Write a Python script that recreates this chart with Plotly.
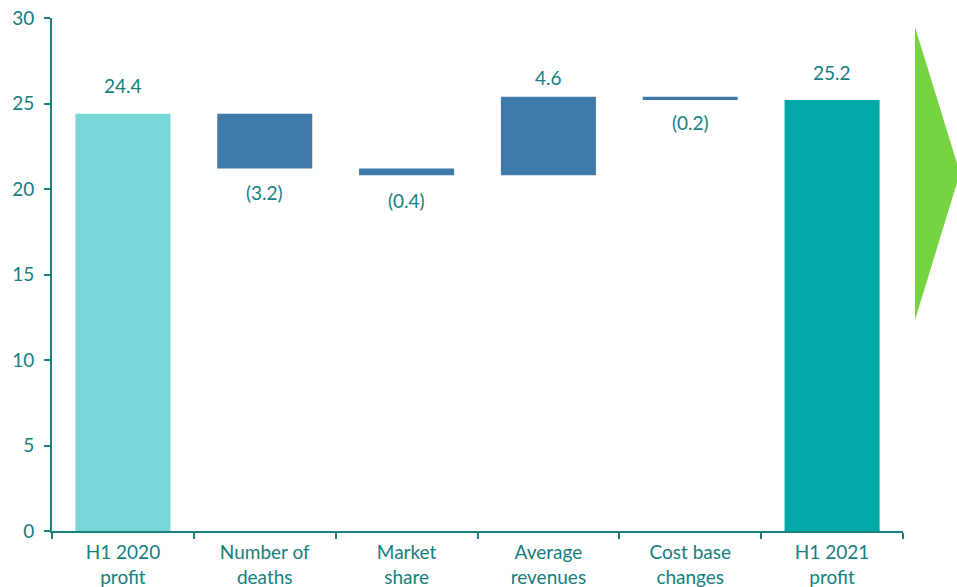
import plotly.graph_objects as go

categories = ["H1 2020<br>profit", "Number of<br>deaths", "Market<br>share",
              "Average<br>revenues", "Cost base<br>changes", "H1 2021<br>profit"]
changes = [24.4, -3.2, -0.4, 4.6, -0.2, 25.2]
kinds = ["total", "delta", "delta", "delta", "delta", "total"]
labels = ["24.4", "(3.2)", "(0.4)", "4.6", "(0.2)", "25.2"]
y_ticks = [0, 5, 10, 15, 20, 25, 30]

TEAL_TEXT = "#157E7E"
colors = {"first": "#79D6D6", "delta": "#3F79A9", "last": "#00A8A8"}

bases, heights, bar_colors = [], [], []
running = 0.0
for i, (v, k) in enumerate(zip(changes, kinds)):
    if k == "total":
        bases.append(0)
        heights.append(v)
        running = v
        bar_colors.append(colors["first"] if i == 0 else colors["last"])
    else:
        bases.append(running)
        heights.append(v)
        running += v
        bar_colors.append(colors["delta"])

fig = go.Figure(go.Bar(x=categories, y=heights, base=bases,
                       marker=dict(color=bar_colors, line=dict(width=0)),
                       hoverinfo="skip"))

yshifts = [28, -24, -25, 19, -22, 28]
for i, (c, b, h, lab) in enumerate(zip(categories, bases, heights, labels)):
    end = b + h
    fig.add_annotation(x=c, y=end, text=lab, showarrow=False,
                       yanchor="middle", yshift=yshifts[i],
                       font=dict(family="Lato", size=19, color=TEAL_TEXT))

# decorative green arrow on the right (paper coords)
def px_x(p):
    return (p - 52) / 851
def px_y(p):
    return (531 - p) / 513
path = "M {} {} L {} {} L {} {} Z".format(px_x(915), px_y(27), px_x(960), px_y(173), px_x(915), px_y(320))
fig.add_shape(type="path", xref="paper", yref="paper", path=path,
              fillcolor="#76D443", line=dict(width=0))

fig.update_layout(
    width=957, height=587,
    margin=dict(l=52, r=54, t=18, b=56, autoexpand=False),
    plot_bgcolor="white", paper_bgcolor="white",
    bargap=0.33, showlegend=False,
    font=dict(family="Lato", size=19, color=TEAL_TEXT),
)
fig.update_xaxes(showline=True, linecolor="#1B7F7F", linewidth=2, automargin=False,
                 ticks="outside", tickson="boundaries", ticklen=6, tickcolor="#1B7F7F", tickwidth=2,
                 ticklabelstandoff=3,
                 tickfont=dict(family="Lato", size=19, color=TEAL_TEXT), showgrid=False)
fig.update_yaxes(range=[0, 30], tickvals=y_ticks, showline=True, linecolor="#1B7F7F", linewidth=2,
                 automargin=False, ticks="outside", ticklen=6, tickcolor="#1B7F7F", tickwidth=2,
                 ticklabelstandoff=6,
                 tickfont=dict(family="Lato", size=19, color=TEAL_TEXT), showgrid=False,
                 zeroline=False)

fig.write_html("out.html")
